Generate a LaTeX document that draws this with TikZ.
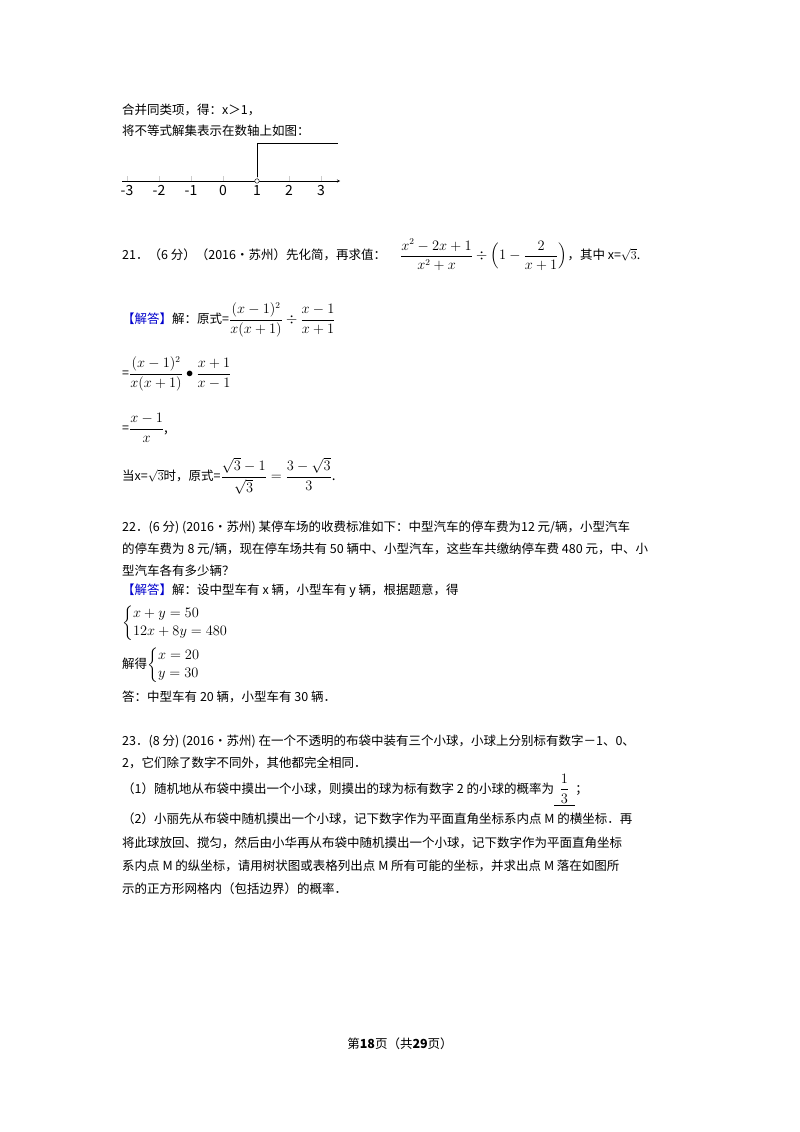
\documentclass[tikz,border=0pt]{standalone}
\usepackage{amsmath}
\usepackage{fontspec}
\setmainfont{Liberation Serif}
\newfontfamily\cjk{Noto Sans CJK SC}
\begin{document}
\begin{tikzpicture}[x=1pt,y=-1pt,
 t/.style={anchor=west,inner sep=0pt,font=\cjk\fontsize{12.5}{14}\selectfont},
 m/.style={anchor=west,inner sep=0pt,font=\fontsize{13.5}{15}\selectfont}]
\useasboundingbox (0,0) rectangle (800,1132);
\node[t] (a1) at (122,110) {合并同类项，得：x＞1，};
\node[t] (a2) at (122,131) {将不等式解集表示在数轴上如图：};
% number line
\coordinate (ls) at (122,181); \coordinate (le) at (340,181);
\draw[->,>=stealth] (ls) -- (le);
\foreach \v/\x in {-3/127,-2/159,-1/191,0/223,1/257,2/289,3/321}{
 \draw[gray!40] (\x,181) -- (\x,176);
 \node[t,anchor=north,font=\cjk\fontsize{14}{15}\selectfont] at (\x,185) {\v};}
\draw (257,177) -- (257,143) -- (338,143);
\node[circle,draw,fill=white,inner sep=1.6pt] (oc) at (257,181) {};
% 21
\node[t] (q21) at (122,255) {21．（6 分）（2016•苏州）先化简，再求值：};
\node[m] (f21) at (400,255) {$\dfrac{x^2-2x+1}{x^2+x}\div\Bigl(1-\dfrac{2}{x+1}\Bigr)$};
\node[t] (q21e) at (f21.east) {，其中 x=$\sqrt3$.};
\node[t] (s1) at (122,320) {\textcolor{blue!80!black}{【解答】}解：原式=\fontsize{13.5}{15}\selectfont$\dfrac{(x-1)^2}{x(x+1)}\div\dfrac{x-1}{x+1}$};
\node[t] (s2) at (122,374) {=\fontsize{13.5}{15}\selectfont$\dfrac{(x-1)^2}{x(x+1)}\bullet\dfrac{x+1}{x-1}$};
\node[t] (s3) at (122,428) {=\fontsize{13.5}{15}\selectfont$\dfrac{x-1}{x}$,};
\node[t] (s4) at (122,476) {当x=$\sqrt3$时，原式=\fontsize{13.5}{15}\selectfont$\dfrac{\sqrt3-1}{\sqrt3}=\dfrac{3-\sqrt3}{3}$.};
% 22
\node[t] (q22a) at (122,527) {22．(6 分) (2016•苏州) 某停车场的收费标准如下：中型汽车的停车费为12 元/辆，小型汽车};
\node[t] (q22b) at (122,549) {的停车费为 8 元/辆，现在停车场共有 50 辆中、小型汽车，这些车共缴纳停车费 480 元，中、小};
\node[t] (q22c) at (122,571) {型汽车各有多少辆？};
\node[t] (s22a) at (122,591) {\textcolor{blue!80!black}{【解答】}解：设中型车有 x 辆，小型车有 y 辆，根据题意，得};
\node[m] (sys1) at (122,623) {$\begin{cases}x+y=50\\12x+8y=480\end{cases}$};
\node[t] (sys2) at (122,665) {解得\fontsize{13.5}{15}\selectfont$\begin{cases}x=20\\y=30\end{cases}$};
\node[t] (ans) at (122,697) {答：中型车有 20 辆，小型车有 30 辆．};
% 23
\node[t] (q23a) at (122,741) {23．(8 分) (2016•苏州) 在一个不透明的布袋中装有三个小球，小球上分别标有数字－1、0、};
\node[t] (q23b) at (122,763) {2，它们除了数字不同外，其他都完全相同．};
\node[t] (q23c) at (122,790) {（1）随机地从布袋中摸出一个小球，则摸出的球为标有数字 2 的小球的概率为\underline{\ \ \fontsize{13.5}{15}\selectfont$\dfrac13$\ \ }；};
\node[t] (q23d) at (122,819) {（2）小丽先从布袋中随机摸出一个小球，记下数字作为平面直角坐标系内点 M 的横坐标．再};
\node[t] (q23e) at (122,843) {将此球放回、搅匀，然后由小华再从布袋中随机摸出一个小球，记下数字作为平面直角坐标};
\node[t] (q23f) at (122,866) {系内点 M 的纵坐标，请用树状图或表格列出点 M 所有可能的坐标，并求出点 M 落在如图所};
\node[t] (q23g) at (122,889) {示的正方形网格内（包括边界）的概率．};
\node[t,anchor=center] (ft) at (400,1044) {第\textbf{18}页（共\textbf{29}页）};
\end{tikzpicture}
\end{document}
